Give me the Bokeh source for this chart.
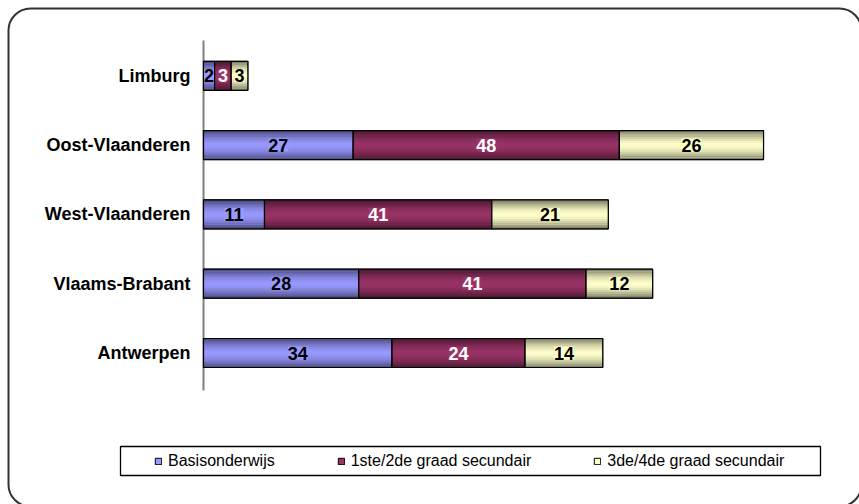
from bokeh.plotting import figure
from bokeh.models import Range1d, Legend, LegendItem, BoxAnnotation, ColumnDataSource
from bokeh.core.properties import value
from bokeh.embed import file_html
from bokeh.resources import INLINE

# ---- data (index 0 = bottom row) ----
provinces = ["Antwerpen", "Vlaams-Brabant", "West-Vlaanderen", "Oost-Vlaanderen", "Limburg"]
basisonderwijs = [34, 28, 11, 27, 2]
graad_1_2 = [24, 41, 41, 48, 3]
graad_3_4 = [14, 12, 21, 26, 3]
series_names = ["Basisonderwijs", "1ste/2de graad secundair", "3de/4de graad secundair"]
series_values = [basisonderwijs, graad_1_2, graad_3_4]

colors = ["#9999FF", "#993366", "#FFFFCC"]
text_colors = ["#000000", "#FFFFFF", "#000000"]
FONT = "Liberation Sans"

# ---- layout (pixels of the 859x504 canvas) ----
W, H = 859, 504
KX = 5.545          # pixels per unit on x
KY = 69.3           # pixels per category row
X0_PX = 203         # page x of value 0
Y0_PX = 352.5       # page y of the first (bottom) category


def px2x(px):
    return (px - X0_PX) / KX


def px2y(py):
    return (Y0_PX - py) / KY


p = figure(width=W, height=H, x_range=Range1d(px2x(0), px2x(W)), y_range=Range1d(px2y(H), px2y(0)),
           output_backend="svg", toolbar_location=None,
           min_border=0, min_border_left=0, min_border_right=0, min_border_top=0, min_border_bottom=0)
p.axis.visible = False
p.grid.visible = False
p.outline_line_color = None
p.background_fill_color = "white"
p.border_fill_color = "white"

ypos = list(range(len(provinces)))

# category axis: line + labels
p.segment(x0=[0], y0=[px2y(390)], x1=[0], y1=[px2y(40)], line_color="#808080", line_width=2)
p.text(x=[px2x(190)] * len(provinces), y=ypos, text=provinces, text_align="right",
       text_baseline="middle", text_font=value(FONT), text_font_style="bold",
       text_font_size="18px", text_color="#000000")

BH = 29 / KY
N = 14


def shade(hexcol, m):
    r, g, b = int(hexcol[1:3], 16), int(hexcol[3:5], 16), int(hexcol[5:7], 16)
    return "#%02x%02x%02x" % (int(r * m), int(g * m), int(b * m))


legend_items = []
cum = [0] * len(provinces)
for s, vals in enumerate(series_values):
    lefts = list(cum)
    rights = [a + v for a, v in zip(cum, vals)]
    mids = [(a + b) / 2 for a, b in zip(lefts, rights)]
    src = ColumnDataSource(dict(y=ypos, left=lefts, right=rights, mid=mids,
                                label=[str(v) for v in vals]))
    base = p.hbar(y="y", left="left", right="right", height=BH, fill_color=colors[s],
                  line_color="black", line_width=1, source=src)
    for i in range(N):
        t = (i + 0.5) / N
        m = 1 - 0.55 * abs(2 * t - 1) ** 1.6
        off = -BH / 2 + (i + 0.5) * BH / N
        ssrc = ColumnDataSource(dict(y=[v + off for v in ypos], left=lefts, right=rights))
        p.hbar(y="y", left="left", right="right", height=BH / N * 1.08,
               fill_color=shade(colors[s], m), line_color=None, source=ssrc)
    p.hbar(y="y", left="left", right="right", height=BH, fill_color=None,
           line_color="black", line_width=1.2, source=src)
    p.text(x="mid", y="y", text="label", source=src, text_align="center",
           text_baseline="middle", text_font=value(FONT), text_font_style="bold",
           text_font_size="18px", text_color=text_colors[s],
           background_fill_color=colors[s])
    legend_items.append(LegendItem(label=series_names[s], renderers=[base]))
    cum = rights

legend = Legend(items=legend_items, orientation="horizontal", location=(149, 28),
                glyph_width=8, glyph_height=8, label_standoff=6, spacing=62, padding=5,
                margin=0, border_line_alpha=0, background_fill_alpha=0,
                label_text_font=FONT, label_text_font_size="16px", label_height=20,
                label_text_color="#000000")
p.add_layout(legend)

legend_box = BoxAnnotation(left=px2x(120), right=px2x(820), top=px2y(446), bottom=px2y(475),
                           fill_alpha=0, line_color="#000000", line_alpha=1, line_width=1.3)
p.add_layout(legend_box)

outer = BoxAnnotation(left=px2x(8), right=px2x(861), top=px2y(8), bottom=px2y(506),
                      fill_alpha=0, line_color="#333333", line_alpha=1, line_width=2,
                      border_radius=22)
p.add_layout(outer)

open("out.html", "w").write(file_html(p, INLINE))
